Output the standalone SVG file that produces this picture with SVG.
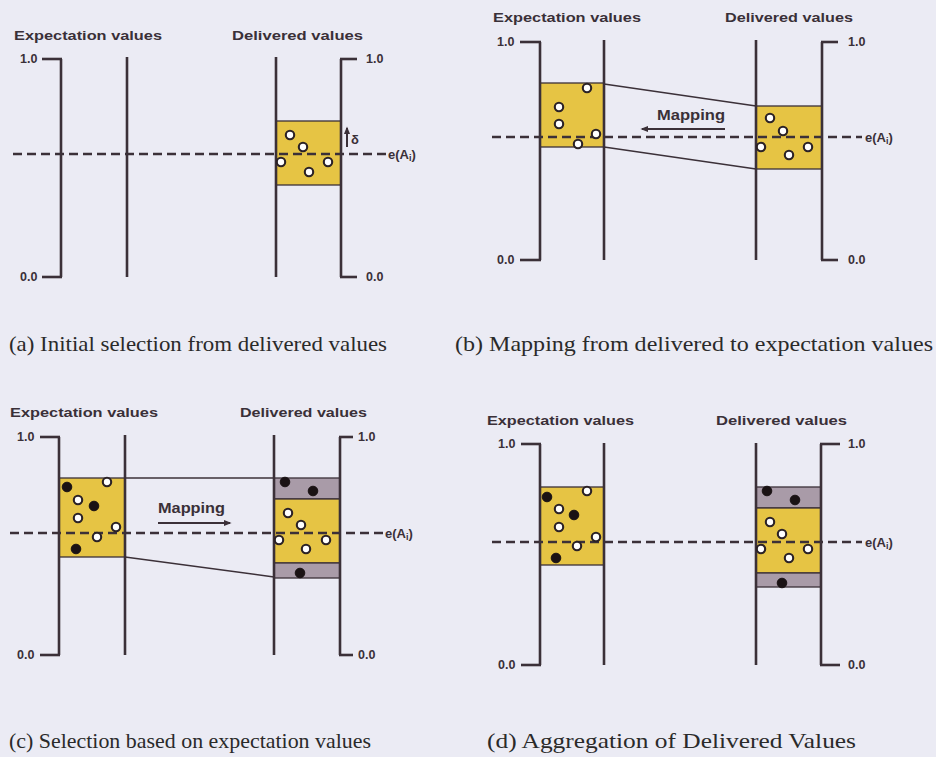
<svg xmlns="http://www.w3.org/2000/svg" width="936" height="757" viewBox="0 0 936 757">
<defs>
<marker id="ah" viewBox="0 0 10 10" refX="8" refY="5" markerWidth="4" markerHeight="4" orient="auto-start-reverse" markerUnits="strokeWidth">
<path d="M0,1 L10,5 L0,9 z" fill="#3b3038"/>
</marker>
<style>
.bg{fill:#ebebf4}
.ax{stroke:#3b3038;stroke-width:2.6;fill:none}
.tk{stroke:#3b3038;stroke-width:2.6}
.yb{fill:#e6c444;stroke:#3b3038;stroke-width:1.3}
.gb{fill:#a99ba8;stroke:#3b3038;stroke-width:1.3}
.dash{stroke:#3b3038;stroke-width:2.5;stroke-dasharray:9 5;fill:none}
.lnk{stroke:#3b3038;stroke-width:1.5;fill:none}
.arr{stroke:#3b3038;stroke-width:2;fill:none}
.oc{fill:#ffffff;stroke:#2b2226;stroke-width:2.1}
.fc{fill:#1a1214;stroke:#1a1214;stroke-width:1}
.t{font-family:"Liberation Sans",Arial,sans-serif;font-weight:bold;font-size:13.5px;fill:#3a3038}
.n{font-family:"Liberation Sans",Arial,sans-serif;font-weight:bold;font-size:12.5px;fill:#3a3038}
.e{font-family:"Liberation Sans",Arial,sans-serif;font-weight:bold;font-size:13px;fill:#3a3038}
.m{font-family:"Liberation Sans",Arial,sans-serif;font-weight:bold;font-size:15px;fill:#3a3038}
.cap{font-family:"Liberation Serif","Times New Roman",serif;font-size:21px;fill:#2a2a2a}
</style>
</defs>
<rect class="bg" x="0" y="0" width="936" height="757"/>

<!-- Panel A -->
<g id="panel-a">
<text class="t" x="14" y="40" textLength="148" lengthAdjust="spacingAndGlyphs">Expectation values</text>
<text class="t" x="232" y="40" textLength="131" lengthAdjust="spacingAndGlyphs">Delivered values</text>
<rect class="yb" x="276" y="121" width="65" height="64"/>
<line class="ax" x1="61" y1="59" x2="61" y2="277"/>
<line class="tk" x1="42" y1="59" x2="62" y2="59"/>
<line class="tk" x1="42" y1="277" x2="62" y2="277"/>
<line class="ax" x1="127" y1="57" x2="127" y2="277"/>
<line class="ax" x1="276" y1="57" x2="276" y2="277"/>
<line class="ax" x1="341" y1="59" x2="341" y2="277"/>
<line class="tk" x1="340" y1="59" x2="357" y2="59"/>
<line class="tk" x1="340" y1="277" x2="357" y2="277"/>
<text class="n" x="20" y="63">1.0</text>
<text class="n" x="20" y="281">0.0</text>
<text class="n" x="366" y="63">1.0</text>
<text class="n" x="366" y="281">0.0</text>
<line class="dash" x1="13" y1="154" x2="386" y2="154"/>
<text class="e" x="388" y="159">e(A<tspan font-size="9" dy="2">i</tspan><tspan dy="-2">)</tspan></text>
<line class="arr" x1="347" y1="147" x2="347" y2="128" stroke-width="2.2" marker-end="url(#ah)"/>
<text class="e" x="351" y="144" font-size="14">δ</text>
<circle class="oc" cx="290" cy="135" r="4.2"/>
<circle class="oc" cx="303" cy="147" r="4.2"/>
<circle class="oc" cx="281" cy="162" r="4.2"/>
<circle class="oc" cx="309" cy="172" r="4.2"/>
<circle class="oc" cx="328" cy="162" r="4.2"/>
<text class="cap" x="9" y="351" textLength="378" lengthAdjust="spacingAndGlyphs">(a) Initial selection from delivered values</text>
</g>

<!-- Panel B -->
<g id="panel-b">
<text class="t" x="493" y="22" textLength="148" lengthAdjust="spacingAndGlyphs">Expectation values</text>
<text class="t" x="725" y="22" textLength="128" lengthAdjust="spacingAndGlyphs">Delivered values</text>
<rect class="yb" x="540" y="83" width="64" height="64"/>
<rect class="yb" x="756" y="106" width="66" height="63"/>
<line class="ax" x1="540" y1="42" x2="540" y2="260"/>
<line class="tk" x1="520" y1="42" x2="541" y2="42"/>
<line class="tk" x1="520" y1="260" x2="541" y2="260"/>
<line class="ax" x1="604" y1="40" x2="604" y2="260"/>
<line class="ax" x1="756" y1="40" x2="756" y2="260"/>
<line class="ax" x1="822" y1="42" x2="822" y2="260"/>
<line class="tk" x1="821" y1="42" x2="838" y2="42"/>
<line class="tk" x1="821" y1="260" x2="838" y2="260"/>
<text class="n" x="497" y="46">1.0</text>
<text class="n" x="497" y="264">0.0</text>
<text class="n" x="848" y="46">1.0</text>
<text class="n" x="848" y="264">0.0</text>
<line class="dash" x1="492" y1="137" x2="862" y2="137"/>
<text class="e" x="865" y="142">e(A<tspan font-size="9" dy="2">i</tspan><tspan dy="-2">)</tspan></text>
<text class="m" x="657" y="120" textLength="68" lengthAdjust="spacingAndGlyphs">Mapping</text>
<circle class="oc" cx="587" cy="88" r="4.2"/>
<circle class="oc" cx="559" cy="107" r="4.2"/>
<circle class="oc" cx="559" cy="124" r="4.2"/>
<circle class="oc" cx="596" cy="134" r="4.2"/>
<circle class="oc" cx="578" cy="144" r="4.2"/>
<circle class="oc" cx="770" cy="118" r="4.2"/>
<circle class="oc" cx="783" cy="131" r="4.2"/>
<circle class="oc" cx="761" cy="147" r="4.2"/>
<circle class="oc" cx="789" cy="155" r="4.2"/>
<circle class="oc" cx="808" cy="147" r="4.2"/>
<text class="cap" x="455" y="351" textLength="478" lengthAdjust="spacingAndGlyphs">(b) Mapping from delivered to expectation values</text>
</g>

<!-- Panel C -->
<g id="panel-c">
<text class="t" x="10" y="417" textLength="148" lengthAdjust="spacingAndGlyphs">Expectation values</text>
<text class="t" x="240" y="417" textLength="127" lengthAdjust="spacingAndGlyphs">Delivered values</text>
<rect class="yb" x="59" y="478" width="66" height="79"/>
<rect class="gb" x="274" y="478" width="66" height="21"/>
<rect class="yb" x="274" y="499" width="66" height="64"/>
<rect class="gb" x="274" y="563" width="66" height="15"/>
<line class="ax" x1="59" y1="437" x2="59" y2="655"/>
<line class="tk" x1="40" y1="437" x2="60" y2="437"/>
<line class="tk" x1="40" y1="655" x2="60" y2="655"/>
<line class="ax" x1="125" y1="435" x2="125" y2="655"/>
<line class="ax" x1="274" y1="435" x2="274" y2="655"/>
<line class="ax" x1="340" y1="437" x2="340" y2="655"/>
<line class="tk" x1="339" y1="437" x2="353" y2="437"/>
<line class="tk" x1="339" y1="655" x2="353" y2="655"/>
<text class="n" x="17" y="441">1.0</text>
<text class="n" x="17" y="659">0.0</text>
<text class="n" x="358" y="441">1.0</text>
<text class="n" x="358" y="659">0.0</text>
<line class="dash" x1="10" y1="533" x2="383" y2="533"/>
<text class="e" x="385" y="538">e(A<tspan font-size="9" dy="2">i</tspan><tspan dy="-2">)</tspan></text>
<text class="m" x="158" y="513" textLength="67" lengthAdjust="spacingAndGlyphs">Mapping</text>
<circle class="fc" cx="67" cy="487" r="4.8"/>
<circle class="oc" cx="78" cy="500" r="4.2"/>
<circle class="fc" cx="94" cy="506" r="4.8"/>
<circle class="oc" cx="78" cy="518" r="4.2"/>
<circle class="oc" cx="107" cy="482" r="4.2"/>
<circle class="oc" cx="116" cy="527" r="4.2"/>
<circle class="oc" cx="97" cy="537" r="4.2"/>
<circle class="fc" cx="76" cy="549" r="4.8"/>
<circle class="fc" cx="285" cy="482" r="4.8"/>
<circle class="fc" cx="313" cy="491" r="4.8"/>
<circle class="oc" cx="288" cy="513" r="4.2"/>
<circle class="oc" cx="301" cy="525" r="4.2"/>
<circle class="oc" cx="279" cy="540" r="4.2"/>
<circle class="oc" cx="306" cy="549" r="4.2"/>
<circle class="oc" cx="326" cy="540" r="4.2"/>
<circle class="fc" cx="300" cy="573" r="4.8"/>
<text class="cap" x="9" y="748" textLength="362" lengthAdjust="spacingAndGlyphs">(c) Selection based on expectation values</text>
</g>

<!-- Panel D -->
<g id="panel-d">
<text class="t" x="487" y="425" textLength="147" lengthAdjust="spacingAndGlyphs">Expectation values</text>
<text class="t" x="716" y="425" textLength="131" lengthAdjust="spacingAndGlyphs">Delivered values</text>
<rect class="yb" x="540" y="487" width="64" height="78"/>
<rect class="gb" x="756" y="487" width="65" height="21"/>
<rect class="yb" x="756" y="508" width="65" height="65"/>
<rect class="gb" x="756" y="573" width="65" height="14"/>
<line class="ax" x1="540" y1="444" x2="540" y2="665"/>
<line class="tk" x1="521" y1="444" x2="541" y2="444"/>
<line class="tk" x1="521" y1="665" x2="541" y2="665"/>
<line class="ax" x1="604" y1="443" x2="604" y2="665"/>
<line class="ax" x1="756" y1="443" x2="756" y2="665"/>
<line class="ax" x1="821" y1="444" x2="821" y2="665"/>
<line class="tk" x1="820" y1="444" x2="840" y2="444"/>
<line class="tk" x1="820" y1="665" x2="840" y2="665"/>
<text class="n" x="498" y="448">1.0</text>
<text class="n" x="498" y="669">0.0</text>
<text class="n" x="848" y="448">1.0</text>
<text class="n" x="848" y="669">0.0</text>
<line class="dash" x1="492" y1="542" x2="862" y2="542"/>
<text class="e" x="865" y="547">e(A<tspan font-size="9" dy="2">i</tspan><tspan dy="-2">)</tspan></text>
<circle class="fc" cx="547" cy="497" r="4.8"/>
<circle class="oc" cx="559" cy="509" r="4.2"/>
<circle class="fc" cx="574" cy="515" r="4.8"/>
<circle class="oc" cx="559" cy="527" r="4.2"/>
<circle class="oc" cx="587" cy="491" r="4.2"/>
<circle class="oc" cx="596" cy="537" r="4.2"/>
<circle class="oc" cx="577" cy="546" r="4.2"/>
<circle class="fc" cx="556" cy="558" r="4.8"/>
<circle class="fc" cx="767" cy="491" r="4.8"/>
<circle class="fc" cx="795" cy="500" r="4.8"/>
<circle class="oc" cx="770" cy="522" r="4.2"/>
<circle class="oc" cx="782" cy="534" r="4.2"/>
<circle class="oc" cx="761" cy="549" r="4.2"/>
<circle class="oc" cx="789" cy="558" r="4.2"/>
<circle class="oc" cx="808" cy="549" r="4.2"/>
<circle class="fc" cx="782" cy="583" r="4.8"/>
<text class="cap" x="487" y="748" textLength="369" lengthAdjust="spacingAndGlyphs">(d) Aggregation of Delivered Values</text>
</g>

<!-- Connectors -->
<g id="connectors">
<line class="lnk" x1="604" y1="84" x2="756" y2="106"/>
<line class="lnk" x1="604" y1="147" x2="756" y2="169"/>
<line class="arr" x1="725" y1="129" x2="642" y2="129" marker-end="url(#ah)"/>
<line class="lnk" x1="125" y1="478" x2="274" y2="478"/>
<line class="lnk" x1="125" y1="557" x2="274" y2="577"/>
<line class="arr" x1="158" y1="523" x2="230" y2="523" marker-end="url(#ah)"/>
</g>
</svg>
